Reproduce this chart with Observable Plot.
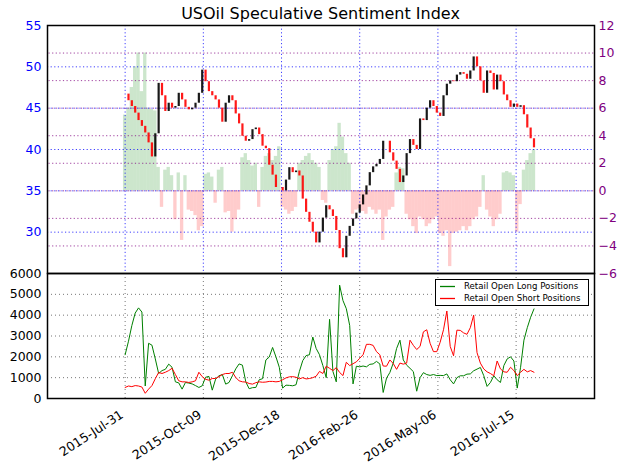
<!DOCTYPE html>
<html><head><meta charset="utf-8">
<script src="https://cdn.jsdelivr.net/npm/d3@7"></script>
<script src="https://cdn.jsdelivr.net/npm/@observablehq/plot@0.6"></script>
<style>
body{margin:0;background:#fff;}
#chart{position:relative;width:624px;height:466px;font-family:"DejaVu Sans",sans-serif;background:#fff;}
#chart > svg.panel{position:absolute;left:0;overflow:visible;}
#title{position:absolute;left:47px;width:547px;top:4px;line-height:20px;text-align:center;font-size:16px;color:#000;}
</style></head>
<body><div id="chart"><div id="title">USOil Speculative Sentiment Index</div></div>
<script>
// ---- data (sampled every 3 days from 2015-07-31) ----
const startDate = "2015-07-31";
const stepDays = 3;
const closes = [46.7,45.9,45.2,44.4,43.5,42.8,42.0,40.8,39.1,41.9,
48.0,46.5,44.6,45.6,45.0,45.2,46.8,46.0,45.1,44.8,
45.0,45.6,46.8,49.6,48.2,47.0,46.5,46.0,45.0,43.3,
45.6,46.5,45.9,44.3,43.1,41.6,41.0,41.2,42.4,42.6,
41.8,40.4,40.1,38.1,36.9,35.4,35.4,35.0,36.3,37.8,
37.2,37.4,36.8,34.0,32.4,31.2,30.0,28.7,30.0,31.7,
33.2,32.7,31.9,30.2,28.0,26.9,29.5,30.7,31.6,32.3,
33.3,34.5,35.6,37.2,37.9,38.2,38.8,41.0,41.0,39.6,
38.6,37.6,36.0,36.8,39.5,41.2,40.5,40.0,43.7,43.5,
45.0,45.9,45.2,44.4,44.0,46.5,47.9,48.3,48.2,49.0,
49.3,49.1,48.5,49.5,51.2,50.0,48.3,46.8,49.5,49.2,
47.2,49.0,48.2,46.6,45.9,45.1,45.5,45.1,45.3,44.2,
42.6,41.3,40.2];
const sentiment = [5.5,6.0,7.5,9.0,10.0,7.2,10.0,6.0,5.9,5.8,
1.7,-1.2,1.5,1.7,1.1,-2.1,1.3,-3.6,1.1,-1.4,
-1.5,-1.8,-2.9,-2.6,1.2,1.3,1.0,-0.9,1.5,1.7,
-1.6,-1.5,-3.0,-2.1,-1.4,2.4,2.7,2.2,1.8,2.0,
-1.2,1.7,2.5,2.7,2.2,2.5,3.2,-1.2,-1.4,-1.7,
-1.5,-1.2,2.0,2.2,2.5,2.7,2.2,2.0,1.7,-0.7,
-0.9,2.2,3.0,3.2,4.9,3.9,2.7,2.0,-1.7,-1.4,
-1.3,-1.5,-1.7,-1.2,-1.4,-1.7,-1.4,-3.6,-1.9,-1.4,
-1.2,1.3,1.7,1.6,-1.7,-2.1,-2.6,-3.1,-1.9,-2.1,
-2.6,-2.4,-2.1,-1.9,-3.1,-3.3,-2.9,-5.5,-3.1,-3.0,
-2.9,-2.6,-2.9,-2.6,-2.1,-1.9,-1.2,1.1,-1.4,-1.9,
-2.6,-2.1,-1.7,1.3,1.4,1.3,1.1,-3.0,-1.0,1.5,
2.2,2.7,3.0];
const longPositions = [2100,2750,3500,4100,4350,4150,600,2650,2560,1900,
1200,1340,1400,1650,1500,800,750,450,770,740,
700,620,530,610,1020,1060,400,930,1090,1150,
690,770,1090,1420,1660,1600,800,470,520,530,
900,950,1850,1990,2450,2000,1500,500,640,630,
610,660,1300,1820,2060,2100,2950,2400,2100,1580,
1000,3800,1300,800,5440,4700,4310,3510,700,1550,
1520,1560,1520,1640,1660,1780,1660,290,980,1250,
1700,2400,2800,1850,1600,1450,1290,350,1000,1240,
1150,1110,1150,1100,1110,1100,1180,900,700,1000,
1090,1090,1170,1180,1330,1410,1490,1100,580,770,
1090,900,770,1580,1900,2000,1800,500,1500,2800,
3400,3900,4300];
const shortPositions = [530,600,570,620,600,550,250,450,620,950,
1250,1200,1260,1340,1450,1150,850,800,800,770,
800,850,1260,1050,920,880,960,960,1050,1150,
1200,1200,1260,1010,850,800,790,720,690,760,
800,780,790,820,820,800,820,900,990,1040,
1050,1020,940,1000,940,960,1000,1070,1300,1200,
1550,1450,1340,1480,1250,1100,1740,1580,1670,1760,
1930,2100,2600,2600,2550,2250,2100,1560,1550,1850,
1680,1400,1700,1650,1700,2800,2550,2350,2500,3200,
3300,2650,2250,2250,2700,3300,4200,2500,2050,3280,
3270,3150,3080,3400,4000,2200,1700,1420,1280,1200,
1090,1800,1420,1280,1260,1500,1340,1100,1260,1400,
1280,1340,1260];
const xTickDates = ["2015-07-31","2015-10-09","2015-12-18","2016-02-26","2016-05-06","2016-07-15"];
const xTickLabels = ["2015-Jul-31","2015-Oct-09","2015-Dec-18","2016-Feb-26","2016-May-06","2016-Jul-15"];
const priceTicks = [30,35,40,45,50,55];
const priceDomain = [25,55];
const sentimentTicks = [-6,-4,-2,0,2,4,6,8,10,12];
const positionTicks = [0,1000,2000,3000,4000,5000,6000];
const seriesNames = ["Retail Open Long Positions","Retail Open Short Positions"];
const seriesColors = ["#008000","#ff0000"];

// ---- build ----
const DAY = 86400000;
const t0 = new Date(startDate);
const rows = closes.map((c, i) => ({
  date: new Date(+t0 + i * stepDays * DAY),
  close: c,
  open: i ? closes[i - 1] : c,
  sent: sentiment[i],
  long: longPositions[i],
  short: shortPositions[i]
}));
const half = stepDays / 2 * DAY;
const toPrice = s => 35 + s / 0.6;           // right axis (-6..12) shares the left axis (25..55)
const fmtS = s => (s < 0 ? "\u2212" + Math.abs(s) : String(s));
const xDomain = [new Date(Date.UTC(2015, 4, 22, 12)), new Date(Date.UTC(2016, 8, 23, 4))];
const xTicks = xTickDates.map((d, i) => ({date: new Date(d), label: xTickLabels[i]}));
const dotted = "1.2,2.4";

const topPlot = Plot.plot({
  width: 624, height: 273, marginLeft: 47, marginRight: 30, marginTop: 25, marginBottom: 0,
  x: {type: "utc", domain: xDomain, axis: null},
  y: {domain: priceDomain, axis: null},
  color: {type: "identity"},
  style: {fontFamily: "DejaVu Sans", background: "transparent", overflow: "visible"},
  marks: [
    Plot.rect(rows, {x1: d => new Date(+d.date - half), x2: d => new Date(+d.date + half),
      y1: 35, y2: d => toPrice(d.sent), fill: d => d.sent >= 0 ? "#008000" : "#ff0000", fillOpacity: 0.2}),
    Plot.ruleX(xTicks, {x: "date", stroke: "#0000ff", strokeOpacity: 0.75, strokeDasharray: dotted}),
    Plot.ruleY(priceTicks.slice(0, -1), {stroke: "#0000ff", strokeOpacity: 0.75, strokeDasharray: dotted}),
    Plot.ruleY(sentimentTicks.slice(1, -1).map(toPrice), {stroke: "#800080", strokeOpacity: 0.75, strokeDasharray: dotted, dx: 1.5}),
    Plot.ruleX(rows, {x: "date", y1: "open", y2: "close",
      stroke: d => d.close >= d.open ? "#000000" : "#ff0000", strokeWidth: 2.2, strokeOpacity: 0.9}),
    Plot.axisY(priceTicks, {anchor: "left", tickSize: 0, tickPadding: 6, color: "#0000ff", fontSize: 12.5, label: null}),
    Plot.axisY(sentimentTicks.map(toPrice), {anchor: "right", tickSize: 0, tickPadding: 4, color: "#800080",
      fontSize: 12.5, label: null, tickFormat: p => fmtS(Math.round((p - 35) * 0.6))}),
    Plot.frame({stroke: "black", strokeWidth: 1.5})
  ]
});
topPlot.classList.add("panel");
topPlot.style.top = "0px";

const bottomPlot = Plot.plot({
  width: 624, height: 193, marginLeft: 47, marginRight: 30, marginTop: 0, marginBottom: 68,
  x: {type: "utc", domain: xDomain, axis: null},
  y: {domain: [0, 6000], axis: null},
  style: {fontFamily: "DejaVu Sans", background: "transparent", overflow: "visible"},
  marks: [
    Plot.ruleX(xTicks, {x: "date", stroke: "#777", strokeDasharray: "1,3"}),
    Plot.ruleY(positionTicks.slice(1, -1), {stroke: "#777", strokeDasharray: "1,3"}),
    Plot.lineY(rows, {x: "date", y: "long", stroke: seriesColors[0], strokeWidth: 1}),
    Plot.lineY(rows, {x: "date", y: "short", stroke: seriesColors[1], strokeWidth: 1}),
    Plot.axisY(positionTicks, {anchor: "left", tickSize: 0, tickPadding: 6, fontSize: 12.5, label: null, tickFormat: d => String(d)}),
    Plot.text(xTicks, {x: "date", frameAnchor: "bottom", text: "label", rotate: -33, textAnchor: "end",
      lineAnchor: "middle", dx: -3, dy: 15, fontSize: 12.6, fill: "black"}),
    Plot.frame({stroke: "black", strokeWidth: 1.5})
  ]
});
bottomPlot.classList.add("panel");
bottomPlot.style.top = "273px";

const chart = document.getElementById("chart");
chart.appendChild(topPlot);
chart.appendChild(bottomPlot);

// legend (an inline SVG box)
const NS = "http://www.w3.org/2000/svg";
const leg = document.createElementNS(NS, "svg");
leg.setAttribute("width", 154);
leg.setAttribute("height", 27);
leg.setAttribute("font-family", "DejaVu Sans");
leg.setAttribute("style", "position:absolute;left:435px;top:279px;");
leg.innerHTML = `<rect x="0.5" y="0.5" width="153" height="26" fill="#fff" stroke="#000" stroke-width="1"/>` +
  seriesNames.map((n, i) => {
    const y = 7.5 + i * 12;
    return `<line x1="5" x2="20" y1="${y}" y2="${y}" stroke="${seriesColors[i]}" stroke-width="1.3"/>` +
      `<text x="29" y="${y}" dy="0.34em" font-size="8.6" fill="#000">${n}</text>`;
  }).join("");
chart.appendChild(leg);
</script>
</body></html>
